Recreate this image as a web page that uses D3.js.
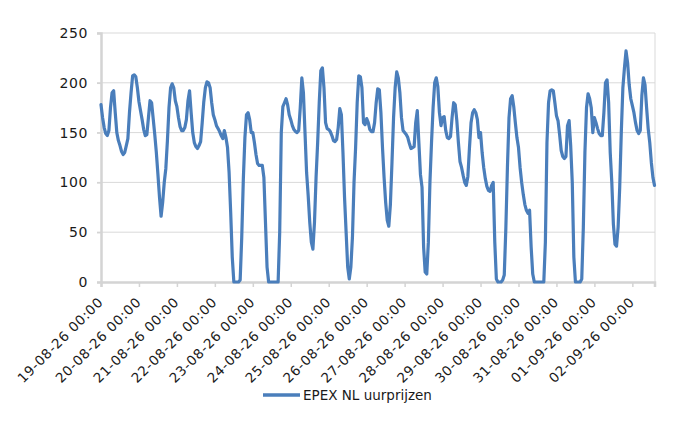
<!DOCTYPE html>
<html>
<head>
<meta charset="utf-8">
<script src="https://cdn.jsdelivr.net/npm/d3@7"></script>
<style>
  body { margin: 0; background: #fff; }
  text { font-family: "DejaVu Sans", sans-serif; fill: #1a1a1a; }
</style>
</head>
<body>
<div id="chart"></div>
<script>
// uurprijzen per dag (EUR/MWh)
var aug19 = [178,165,155,149,147,152,175,190,192,170,150,142,137,131,128,130,137,144,170,190,207,208,206,195];
var aug20 = [181,172,163,153,147,148,165,182,180,164,148,130,108,85,66,80,100,114,142,175,195,199,195,182];
var aug21 = [176,165,156,152,152,155,163,182,192,170,150,140,136,134,137,141,160,181,195,201,200,195,180,168];
var aug22 = [163,157,154,151,147,144,152,145,135,110,70,25,0,0,0,0,2,45,103,145,168,170,163,150];
var aug23 = [150,140,128,119,117,117,117,105,60,15,0,0,0,0,0,0,0,50,150,176,180,184,178,168];
var aug24 = [163,157,153,151,150,152,175,205,190,150,110,87,60,40,33,60,105,140,180,212,215,195,160,154];
var aug25 = [153,151,147,142,141,143,155,174,168,130,85,50,15,3,15,45,100,135,180,207,206,195,160,158];
var aug26 = [164,160,153,151,151,160,180,194,193,170,135,105,80,62,56,78,120,165,195,211,205,190,165,152];
var aug27 = [150,148,145,139,134,135,136,160,172,140,108,95,35,10,8,40,100,140,175,200,205,196,170,157];
var aug28 = [165,166,152,145,144,146,165,180,178,162,140,121,115,107,100,97,106,135,160,170,173,170,163,145];
var aug29 = [150,130,115,104,96,92,91,97,100,40,3,0,0,0,2,7,54,115,165,184,187,176,160,145];
var aug30 = [135,115,100,88,78,72,69,72,35,8,0,0,0,0,0,0,0,40,140,180,192,193,192,180];
var aug31 = [167,162,148,132,126,124,126,157,162,137,100,25,0,0,0,0,3,55,130,175,189,184,175,150];
var sep01 = [165,160,154,149,147,147,170,200,203,180,130,100,58,38,36,55,95,150,195,215,232,220,198,184];
var sep02 = [177,170,160,152,149,152,187,205,198,175,154,140,120,105,97];

var dayLabels = ["19-08-26 00:00","20-08-26 00:00","21-08-26 00:00","22-08-26 00:00",
  "23-08-26 00:00","24-08-26 00:00","25-08-26 00:00","26-08-26 00:00","27-08-26 00:00",
  "28-08-26 00:00","29-08-26 00:00","30-08-26 00:00","31-08-26 00:00","01-09-26 00:00",
  "02-09-26 00:00"];
var yTicks = [0, 50, 100, 150, 200, 250];
var seriesName = "EPEX NL uurprijzen";

(function () {
  var prices = [].concat(aug19, aug20, aug21, aug22, aug23, aug24, aug25, aug26,
    aug27, aug28, aug29, aug30, aug31, sep01, sep02);

  var width = 700, height = 430;
  var plotLeft = 101, plotRight = 655, plotTop = 33, plotBottom = 282;

  var svg = d3.select("#chart").append("svg")
    .attr("width", width).attr("height", height);

  var x = d3.scaleLinear().domain([0, prices.length - 1]).range([plotLeft, plotRight - 0.5]);
  var y = d3.scaleLinear().domain([0, 250]).range([plotBottom, plotTop]);

  // rasterlijnen
  svg.append("g").selectAll("line").data(yTicks.filter(function (d) { return d > 0; }))
    .enter().append("line")
    .attr("x1", plotLeft - 4).attr("x2", plotRight)
    .attr("y1", function (d) { return y(d); }).attr("y2", function (d) { return y(d); })
    .attr("stroke", "#d9d9d9").attr("stroke-width", 1);

  // rechterrand
  svg.append("line").attr("x1", plotRight).attr("x2", plotRight)
    .attr("y1", plotTop).attr("y2", plotBottom)
    .attr("stroke", "#d9d9d9").attr("stroke-width", 1);

  // y-as
  var yAxis = d3.axisLeft(y).tickValues(yTicks).tickSize(4).tickPadding(9);
  var gy = svg.append("g").attr("transform", "translate(" + plotLeft + ",0)").call(yAxis);
  gy.select(".domain").attr("stroke", "#d4d4d4").attr("stroke-width", 2.5);
  gy.selectAll(".tick line").attr("stroke", "#d4d4d4").attr("stroke-width", 1.5);
  gy.selectAll(".tick text").style("font-size", "14px").style("letter-spacing", "0.6px")
    .style("font-family", "DejaVu Sans, sans-serif").attr("fill", "#1a1a1a");

  // x-as met dagticks
  var dayIdx = dayLabels.map(function (d, i) { return i * 24; });
  var xAxis = d3.axisBottom(x).tickValues(dayIdx).tickSize(5).tickFormat("");
  var gx = svg.append("g").attr("transform", "translate(0," + plotBottom + ")").call(xAxis);
  gx.select(".domain").attr("stroke", "#d4d4d4").attr("stroke-width", 2.5);
  gx.selectAll(".tick line").attr("stroke", "#d4d4d4").attr("stroke-width", 1.5);

  svg.append("g").selectAll("text").data(dayLabels).enter().append("text")
    .attr("text-anchor", "end")
    .attr("transform", function (d, i) {
      return "translate(" + (x(dayIdx[i]) + 3) + "," + (plotBottom + 21) + ") rotate(-45)";
    })
    .style("font-size", "13.5px").style("letter-spacing", "0.7px")
    .text(function (d) { return d; });

  // lijn
  var line = d3.line()
    .x(function (d, i) { return x(i); })
    .y(function (d) { return y(d); });

  svg.append("path").datum(prices)
    .attr("d", line)
    .attr("fill", "none")
    .attr("stroke", "#4a7ebb")
    .attr("stroke-width", 3.2)
    .attr("stroke-linejoin", "round")
    .attr("stroke-linecap", "round");

  // legenda
  var lg = svg.append("g");
  lg.append("line").attr("x1", 263).attr("x2", 300).attr("y1", 395).attr("y2", 395)
    .attr("stroke", "#4a7ebb").attr("stroke-width", 3.5);
  lg.append("text").attr("x", 303).attr("y", 400)
    .style("font-size", "13.5px").text(seriesName);
})();
</script>
</body>
</html>
